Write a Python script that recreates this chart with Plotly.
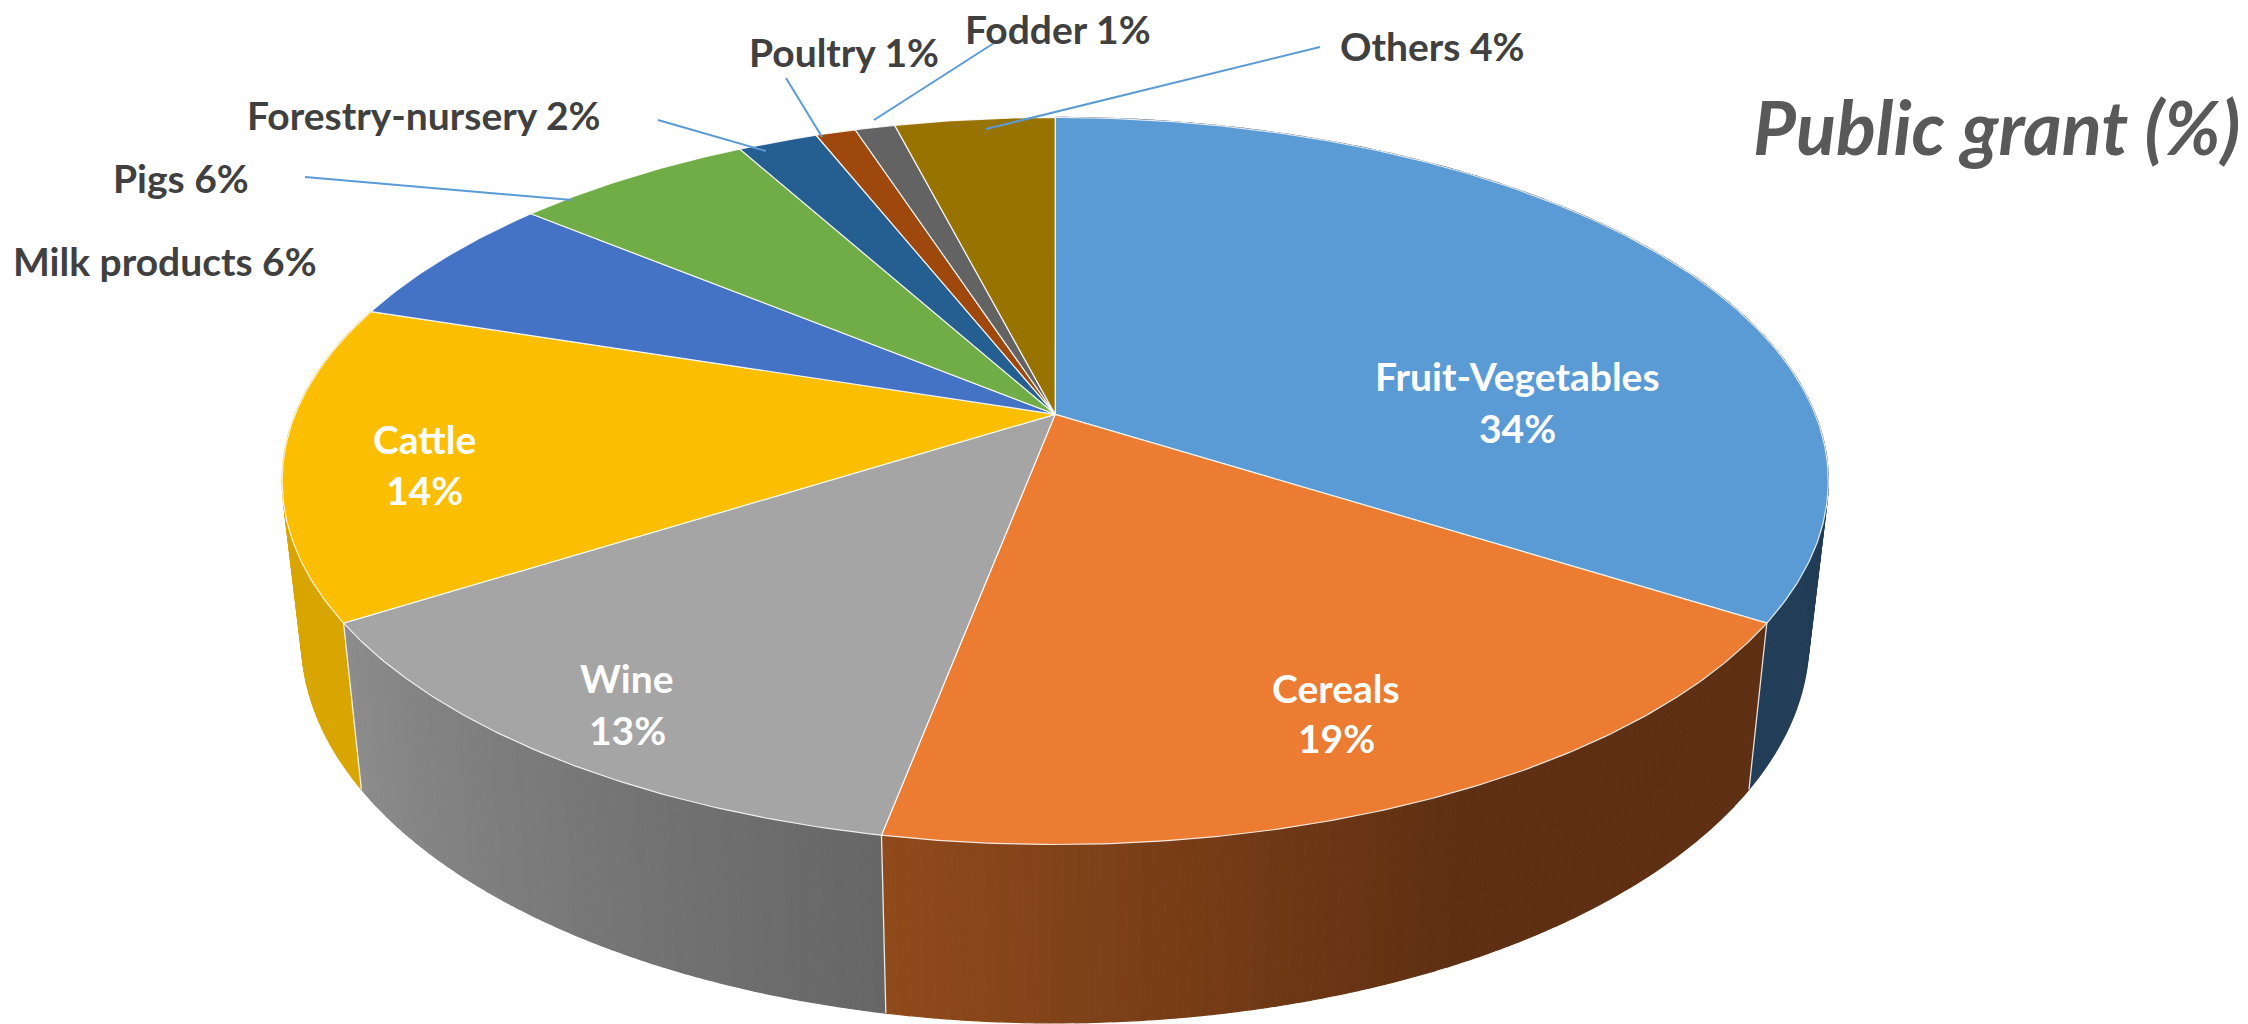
import numpy as np
import plotly.graph_objects as go

# ---- data ----
categories = ["Fruit-Vegetables", "Cereals", "Wine", "Cattle", "Milk products",
              "Pigs", "Forestry-nursery", "Poultry", "Fodder", "Others"]
shares = [34, 19, 13, 14, 6, 6, 2, 1, 1, 4]
title_text = "Public grant (%)"

# ---- styles ----
top_colors = ["#5B9BD5", "#EB7C31", "#A5A5A5", "#FBBE00", "#4472C4",
              "#70AD47", "#255E91", "#9E480E", "#636363", "#997300"]
# wall gradient stops (position along the slice's wall, colour as rgb)
wall_stops = [
    [(0, (34, 61, 87)), (1, (34, 61, 87))],
    [(0, (94, 47, 18)), (0.45, (94, 47, 18)), (1, (144, 74, 27))],
    [(0, (102, 102, 102)), (1, (140, 140, 140))],
    [(0, (217, 165, 0)), (1, (217, 165, 0))],
]
label_dark = "#404040"
leader_color = "#5B9BD5"

# ---- projection of the tilted disc onto the page ----
CX, CY, A, B, K = 1055.2, 414.3, 760.0, 351.3, 0.1834
BOTTOM_SCALE, BOTTOM_CY, BOTTOM_B = 0.975, 569.2, 370.5


def project(theta, r=1.0, bottom=False):
    X, Y = r * np.sin(theta), -r * np.cos(theta)
    w = 1 - K * Y
    if bottom:
        return CX + BOTTOM_SCALE * A * X / w, BOTTOM_CY + BOTTOM_B * Y / w
    return CX + A * X / w, CY + B * Y / w


def to_rgb(stops, t):
    pos = [s[0] for s in stops]
    c = [np.interp(t, pos, [s[1][i] for s in stops]) for i in range(3)]
    return "rgb(%d,%d,%d)" % tuple(round(v) for v in c)


edges = 2 * np.pi * np.concatenate([[0], np.cumsum(shares)]) / np.sum(shares)
fig = go.Figure()


def poly(xs, ys, fill, line=None, width=1.0):
    fig.add_trace(go.Scatter(x=xs, y=ys, mode="lines", fill="toself", fillcolor=fill,
                             line=dict(color=line or fill, width=width),
                             hoverinfo="skip", showlegend=False))


# side walls, front-facing slices only
for i, stops in enumerate(wall_stops):
    a0, a1 = edges[i], edges[i + 1]
    n = max(2, int(np.degrees(a1 - a0) / 0.8))
    th = np.linspace(a0, a1, n + 1)
    for j in range(n):
        t = (j + 0.5) / n
        x0, y0 = project(th[j:j + 2])
        x1, y1 = project(th[j:j + 2], bottom=True)
        poly(list(x0) + list(x1[::-1]), list(y0) + list(y1[::-1]), to_rgb(stops, t), width=1.2)

# white seams between the walls
for e in edges[1:4]:
    x0, y0 = project(e)
    x1, y1 = project(e, bottom=True)
    fig.add_trace(go.Scatter(x=[x0, x1], y=[y0, y1], mode="lines",
                             line=dict(color="rgba(255,255,255,0.85)", width=1.3),
                             hoverinfo="skip", showlegend=False))

# top surface
for i, c in enumerate(top_colors):
    th = np.linspace(edges[i], edges[i + 1], max(3, int(np.degrees(edges[i + 1] - edges[i]) / 0.5)))
    x, y = project(th)
    poly([CX] + list(x) + [CX], [CY] + list(y) + [CY], c, line="rgba(255,255,255,0.85)", width=1.2)

# ---- leader lines and labels (page placement) ----
leaders = [((658, 120), (766, 151)), ((305, 177), (572, 200)), ((786, 78), (822, 137)),
           ((1005, 36), (874, 120)), ((1320, 47), (986, 129))]
for (xa, ya), (xb, yb) in leaders:
    fig.add_trace(go.Scatter(x=[xa, xb], y=[ya, yb], mode="lines",
                             line=dict(color=leader_color, width=2),
                             hoverinfo="skip", showlegend=False))

outside = {"Milk products": (165, 261), "Pigs": (181, 178), "Forestry-nursery": (424, 115),
           "Poultry": (844, 52), "Fodder": (1058, 29), "Others": (1432, 46)}
inside = {"Fruit-Vegetables": (1517, 376, 428), "Cereals": (1336, 688, 738),
          "Wine": (627, 678, 730), "Cattle": (424, 439, 490)}
annotations = []


def text(t, x, y, size, color, **font):
    annotations.append(dict(text=t, x=x, y=y, xref="x", yref="y", showarrow=False,
                            xanchor="center", yanchor="middle",
                            font=dict(family="Lato", size=size, color=color, weight=700, **font)))


for name, share in zip(categories, shares):
    if name in outside:
        x, y = outside[name]
        text(f"{name} {share}%", x, y, 39, label_dark)
    else:
        x, y1, y2 = inside[name]
        text(name, x, y1, 39, "#FFFFFF")
        text(f"{share}%", x, y2, 39, "#FFFFFF")
text(title_text, 1996, 126, 74, "#595959", style="italic")

fig.update_layout(width=2248, height=1024, margin=dict(l=0, r=0, t=0, b=0),
                  paper_bgcolor="white", plot_bgcolor="white", annotations=annotations,
                  xaxis=dict(range=[0, 2248], visible=False, fixedrange=True),
                  yaxis=dict(range=[1024, 0], visible=False, fixedrange=True))
fig.write_html("out.html", post_script="document.body.style.margin='0';document.body.style.overflow='hidden';",
               config={"displayModeBar": False})
